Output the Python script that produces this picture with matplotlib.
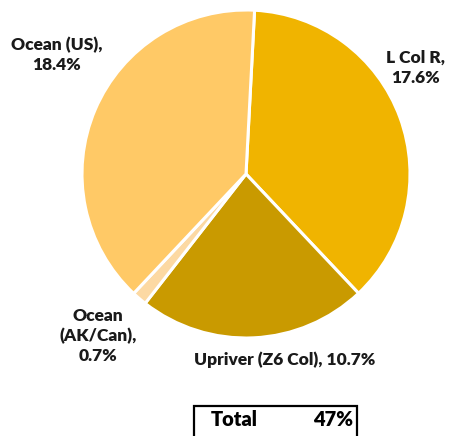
import matplotlib.pyplot as plt
from matplotlib.patches import Rectangle

labels = ['L Col R', 'Upriver (Z6 Col)', 'Ocean\n(AK/Can)', 'Ocean (US)']
values = [17.6, 10.7, 0.7, 18.4]
colors = ['#F0B400', '#C99A00', '#FCD9A3', '#FFC966']
total_label = '47%'

plt.rcParams['font.family'] = ['Lato', 'DejaVu Sans']

fig = plt.figure(figsize=(4.53, 4.36), dpi=100)
ax = fig.add_axes([0, 0, 1, 1])

ax.pie(values, colors=colors, startangle=87, counterclock=False,
       center=(246, 262), radius=164,
       wedgeprops=dict(edgecolor='white', linewidth=2.2), frame=True)
ax.set_xlim(0, 453)
ax.set_ylim(0, 436)
ax.set_aspect('equal')
ax.axis('off')

# label positions (pixel coords, y from bottom)
pos = [(416, 368), (285, 76), (98, 100), (57, 381)]
for lab, v, (x, y) in zip(labels, values, pos):
    if lab.startswith('Upriver'):
        txt = lab + ', ' + f'{v}%'
    else:
        txt = lab + ',\n' + f'{v}%'
    ax.text(x, y, txt, ha='center', va='center', fontsize=12.5,
            fontweight='heavy', linespacing=1.3, color='#1a1a1a')

ax.add_patch(Rectangle((194, -6), 163, 36, fill=False, edgecolor='black',
                       linewidth=1.6, clip_on=False))
ax.text(211, 10, 'Total', ha='left', va='baseline', fontsize=14.5,
        fontweight='heavy', color='black')
ax.text(353, 10, total_label, ha='right', va='baseline', fontsize=14.5,
        fontweight='heavy', color='black')

fig.savefig('out.png', dpi=100)
